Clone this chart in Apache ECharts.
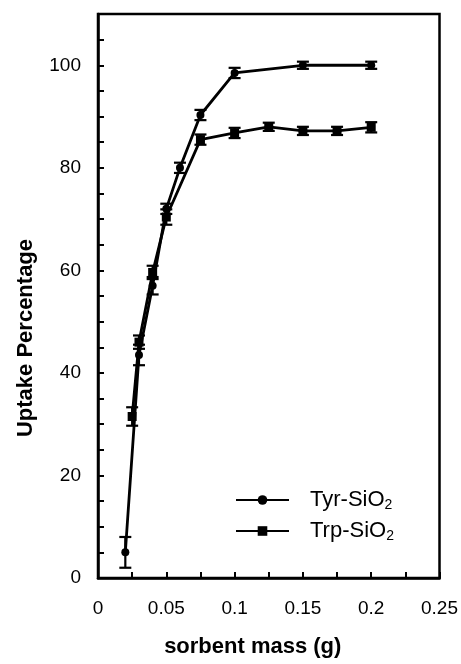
<!DOCTYPE html>
<html><head><meta charset="utf-8">
<script src="https://cdn.jsdelivr.net/npm/echarts@6/dist/echarts.min.js"></script>
<style>html,body{margin:0;padding:0;background:#fff}#c{width:461px;height:664px}</style>
</head><body><div id="c"></div>
<script>
// Data
const tyrX   = [0.02, 0.03, 0.04, 0.05, 0.06, 0.075, 0.1, 0.15, 0.2];
const tyrY   = [5, 43.5, 57, 72, 80, 90.3, 98.5, 100, 100];
const tyrErr = [3, 2, 1.7, 1, 1, 1, 1, 0.7, 0.7];
const trpX   = [0.025, 0.03, 0.04, 0.05, 0.075, 0.1, 0.125, 0.15, 0.175, 0.2];
const trpY   = [31.5, 46, 59.6, 70.4, 85.5, 86.8, 88, 87.2, 87.2, 87.9];
const trpErr = [1.8, 1.3, 1.3, 1.5, 1, 1, 0.8, 0.8, 0.8, 1];
const xTickValues = [0, 0.05, 0.1, 0.15, 0.2, 0.25];
const xTickLabels = ['0', '0.05', '0.1', '0.15', '0.2', '0.25'];
const yTickValues = [0, 20, 40, 60, 80, 100];
const yTickLabels = ['0', '20', '40', '60', '80', '100'];
const seriesNames = ['Tyr-SiO2', 'Trp-SiO2'];

const FONT = 'Liberation Sans, Arial, sans-serif';
const pts = (xs, ys) => xs.map((x, i) => [x, ys[i]]);
const errPts = (xs, ys, es) => xs.map((x, i) => [x, ys[i], es[i]]);

function errRender(params, api) {
  const x = api.value(0), y = api.value(1), e = api.value(2);
  const top = api.coord([x, y + e]);
  const bot = api.coord([x, y - e]);
  const hw = 6;
  const style = { stroke: '#000', lineWidth: 2.2 };
  return {
    type: 'group',
    children: [
      { type: 'line', shape: { x1: top[0], y1: top[1], x2: bot[0], y2: bot[1] }, style },
      { type: 'line', shape: { x1: top[0] - hw, y1: top[1], x2: top[0] + hw, y2: top[1] }, style },
      { type: 'line', shape: { x1: bot[0] - hw, y1: bot[1], x2: bot[0] + hw, y2: bot[1] }, style }
    ]
  };
}

function labelFor(values, labels, v) {
  for (let i = 0; i < values.length; i++) {
    if (Math.abs(values[i] - v) < 1e-9) return labels[i];
  }
  return '';
}

const chart = echarts.init(document.getElementById('c'), null, { renderer: 'canvas' });
chart.setOption({
  animation: false,
  backgroundColor: '#fff',
  grid: { left: 98, top: 14, right: 21, bottom: 86, show: true, borderColor: '#000', borderWidth: 2.5, backgroundColor: 'transparent' },
  legend: {
    data: seriesNames,
    orient: 'vertical',
    left: 230,
    top: 483,
    itemWidth: 53,
    itemHeight: 12,
    itemGap: 7,
    formatter: n => '{g|}' + n.replace('SiO2', 'SiO') + '{s|2}',
    textStyle: {
      fontFamily: FONT, fontSize: 22, color: '#000', lineHeight: 24,
      rich: {
        g: { width: 16 },
        s: { fontFamily: FONT, fontSize: 14, color: '#000', lineHeight: 14, padding: [10, 0, 0, 0] }
      }
    }
  },
  xAxis: {
    type: 'value', min: 0, max: 0.25, interval: 0.025,
    name: 'sorbent mass (g)', nameLocation: 'middle', nameGap: 58,
    nameTextStyle: { fontFamily: FONT, fontSize: 22, fontWeight: 'bold', color: '#000', padding: [0, 32, 0, 0] },
    axisLine: { lineStyle: { color: '#000', width: 2.5 } },
    axisTick: { show: true, inside: true, length: 6, lineStyle: { color: '#000', width: 2 } },
    axisLabel: { margin: 21, fontFamily: FONT, fontSize: 19, color: '#000',
      formatter: v => labelFor(xTickValues, xTickLabels, v) },
    splitLine: { show: false }
  },
  yAxis: {
    type: 'value', min: 0, max: 110, interval: 5,
    name: 'Uptake Percentage', nameLocation: 'middle', nameGap: 61,
    nameTextStyle: { fontFamily: FONT, fontSize: 22, fontWeight: 'bold', color: '#000', padding: [0, 84, 0, 0] },
    axisLine: { lineStyle: { color: '#000', width: 2.5 } },
    axisTick: { show: true, inside: true, length: 6, lineStyle: { color: '#000', width: 2 } },
    axisLabel: { margin: 17, fontFamily: FONT, fontSize: 19, color: '#000',
      formatter: v => labelFor(yTickValues, yTickLabels, v) },
    splitLine: { show: false }
  },
  series: [
    {
      name: seriesNames[0], type: 'line', data: pts(tyrX, tyrY),
      symbol: 'circle', symbolSize: 8, z: 3,
      lineStyle: { color: '#000', width: 2.8 },
      itemStyle: { color: '#000' }
    },
    {
      name: seriesNames[1], type: 'line', data: pts(trpX, trpY),
      symbol: 'rect', symbolSize: 9, z: 3,
      lineStyle: { color: '#000', width: 2.8 },
      itemStyle: { color: '#000' }
    },
    { type: 'custom', renderItem: errRender, data: errPts(tyrX, tyrY, tyrErr), z: 4, silent: true },
    { type: 'custom', renderItem: errRender, data: errPts(trpX, trpY, trpErr), z: 4, silent: true }
  ]
});
</script>
</body></html>
